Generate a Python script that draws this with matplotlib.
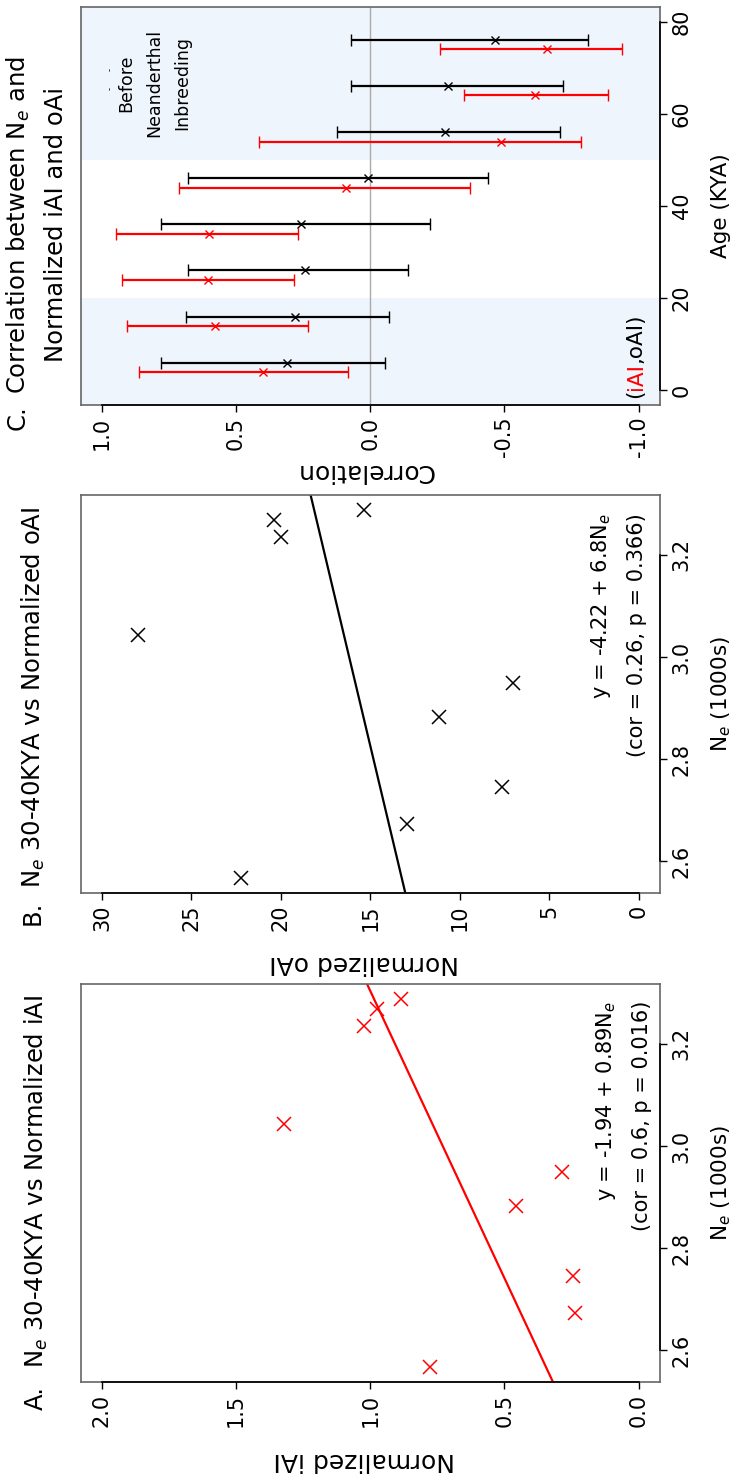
import numpy as np
import matplotlib.pyplot as plt

plt.rcParams['font.family'] = ['DejaVu Sans']
plt.rcParams['mathtext.fontset'] = 'dejavusans'

# Ne (1000s) at 30-40 KYA against normalized admixture
ne_vals = [2.567, 2.674, 2.745, 2.883, 2.949, 3.043, 3.234, 3.268, 3.288]
iai_vals = [0.778, 0.238, 0.244, 0.456, 0.287, 1.323, 1.022, 0.975, 0.884]
oai_vals = [22.21, 12.94, 7.66, 11.18, 7.00, 28.01, 19.99, 20.38, 15.37]
iai_fit = (-1.94, 0.89)
oai_fit = (-4.22, 6.8)
iai_stats = '(cor = 0.6, p = 0.016)'
oai_stats = '(cor = 0.26, p = 0.366)'

# correlation per age bin (KYA) with confidence interval
age_bins = [5, 15, 25, 35, 45, 55, 65, 75]
iai_cor = [0.399, 0.577, 0.606, 0.601, 0.092, -0.488, -0.613, -0.657]
iai_cor_hi = [0.861, 0.908, 0.925, 0.948, 0.711, 0.413, -0.348, -0.261]
iai_cor_lo = [0.084, 0.232, 0.286, 0.270, -0.373, -0.786, -0.887, -0.939]
oai_cor = [0.312, 0.279, 0.244, 0.258, 0.010, -0.277, -0.291, -0.465]
oai_cor_hi = [0.780, 0.685, 0.681, 0.779, 0.681, 0.124, 0.073, 0.071]
oai_cor_lo = [-0.054, -0.071, -0.141, -0.221, -0.439, -0.707, -0.718, -0.810]

W, H = 734, 1480
fig = plt.figure(figsize=(W / 100, H / 100), dpi=100)


def box(top, bottom):
    # pixel rows of the panel -> figure fraction
    return [80.5 / W, 1 - bottom / H, (660 - 80.5) / W, (bottom - top) / H]


axA = fig.add_axes(box(984, 1382))
axB = fig.add_axes(box(495, 893))
axC = fig.add_axes(box(7, 405))


def frame(ax, xt, xtl, yt, ytl, xlab, ylab, xlab_y, xlab_size, ylab_size):
    ax.yaxis.tick_right()
    ax.yaxis.set_label_position('right')
    ax.set_xticks(xt, xtl, rotation=90)
    ax.set_yticks(yt, ytl, rotation=90, va='center')
    ax.tick_params(direction='out', length=5, width=1, labelsize=15, pad=3.5)
    for s in ax.spines.values():
        s.set_color('#666666')
        s.set_linewidth(1.2)
    # R style axis lines, first to last tick
    ax.plot([xt[0], xt[-1]], [0, 0], transform=ax.get_xaxis_transform(),
            color='black', lw=1.2, clip_on=False, zorder=5)
    ax.plot([1, 1], [yt[0], yt[-1]], transform=ax.get_yaxis_transform(),
            color='black', lw=1.2, clip_on=False, zorder=5)
    ax.set_xlabel(xlab, rotation=180, fontsize=xlab_size, va='center')
    ax.xaxis.set_label_coords(0.49, xlab_y)
    ax.set_ylabel(ylab, rotation=90, fontsize=ylab_size, va='center')
    ax.yaxis.set_label_coords(1.105, 0.5)


lo, hi = min(ne_vals), max(ne_vals)
pad = 0.04 * (hi - lo)
ne_lim = (lo - pad, hi + pad)

ne_ticks = [2.6, 2.8, 3.0, 3.2]
ne_labels = ['2.6', '2.8', '3.0', '3.2']

# A. iAI
a, b = iai_fit
axA.plot(iai_vals, ne_vals, 'x', color='red', ms=9.5, mew=1.1)
axA.axline((a + b * 3.0, 3.0), slope=1 / b, color='red', lw=1.6)
axA.set_xlim(2.08, -0.08)
axA.set_ylim(ne_lim)
frame(axA, [0, 0.5, 1.0, 1.5, 2.0], ['0.0', '0.5', '1.0', '1.5', '2.0'],
      ne_ticks, ne_labels, 'Normalized iAI', 'N$_e$ (1000s)', -0.196, 18, 15.5)
axA.text(0.936, 0.958, f'y = {a} + {b}N$_e$\n{iai_stats}', transform=axA.transAxes,
         rotation=90, ha='center', va='top', ma='right', fontsize=15, linespacing=1.85)

# B. oAI
a, b = oai_fit
axB.plot(oai_vals, ne_vals, 'x', color='black', ms=9.5, mew=1.1)
axB.axline((a + b * 3.0, 3.0), slope=1 / b, color='black', lw=1.6)
axB.set_xlim(31.2, -1.2)
axB.set_ylim(ne_lim)
frame(axB, [0, 5, 10, 15, 20, 25, 30], ['0', '5', '10', '15', '20', '25', '30'],
      ne_ticks, ne_labels, 'Normalized oAI', 'N$_e$ (1000s)', -0.176, 18, 15.5)
axB.text(0.9275, 0.953, f'y = {a} + {b}N$_e$\n{oai_stats}', transform=axB.transAxes,
         rotation=90, ha='center', va='top', ma='right', fontsize=15, linespacing=1.85)

# C. correlation through time
ages = np.array(age_bins)
axC.axhspan(-10, 20, color='#EEF5FD', lw=0, zorder=0)
axC.axhspan(50, 90, color='#EEF5FD', lw=0, zorder=0)
axC.axvline(0, color='#AAAAAA', lw=1, zorder=1)
axC.errorbar(oai_cor, ages + 1,
             xerr=[np.subtract(oai_cor, oai_cor_lo), np.subtract(oai_cor_hi, oai_cor)],
             fmt='x', color='black', ms=6, mew=1, elinewidth=1.6, capsize=4, capthick=1.6)
axC.errorbar(iai_cor, ages - 1,
             xerr=[np.subtract(iai_cor, iai_cor_lo), np.subtract(iai_cor_hi, iai_cor)],
             fmt='x', color='red', ms=6, mew=1, elinewidth=1.6, capsize=4, capthick=1.6)
axC.set_xlim(1.08, -1.08)
axC.set_ylim(-3.2, 83.2)
frame(axC, [-1.0, -0.5, 0.0, 0.5, 1.0], ['-1.0', '-0.5', '0.0', '0.5', '1.0'],
      [0, 20, 40, 60, 80], ['0', '20', '40', '60', '80'],
      'Correlation', 'Age (KYA)', -0.166, 18, 15.5)

axC.text(0.804, 66.75, 'Before\nNeanderthal\nInbreeding', rotation=90, ha='center',
         va='center', ma='center', fontsize=12.5, linespacing=1.7)
for yy in [65.6, 69.7]:
    axC.text(0.971, yy, '-', rotation=90, ha='center', va='center', fontsize=6)

t1 = axC.text(-0.989, -1.7, '(', rotation=90, ha='center', va='bottom', fontsize=15.5)
t2 = axC.annotate('iAI', xy=(0.5, 1), xycoords=t1, rotation=90, ha='center',
                  va='bottom', color='red', fontsize=15.5)
axC.annotate(',oAI)', xy=(0.5, 1), xycoords=t2, rotation=90, ha='center',
             va='bottom', fontsize=15.5)

# panel titles
fs = 17.5
fig.text(36 / W, 1 - 1410 / H, 'A.', rotation=90, ha='center', va='bottom', fontsize=fs)
fig.text(36.5 / W, 1 - 1368 / H, 'N$_e$ 30-40KYA vs Normalized iAI', rotation=90,
         ha='center', va='bottom', fontsize=fs)
fig.text(32.5 / W, 1 - 925 / H, 'B.', rotation=90, ha='center', va='bottom', fontsize=fs)
fig.text(33 / W, 1 - 888 / H, 'N$_e$ 30-40KYA vs Normalized oAI', rotation=90,
         ha='center', va='bottom', fontsize=fs)
fig.text(17.5 / W, 1 - 430 / H, 'C.', rotation=90, ha='center', va='bottom', fontsize=fs)
fig.text(36.5 / W, 1 - 225 / H, 'Correlation between N$_e$ and\nNormalized iAI and oAi',
         rotation=90, ha='center', va='center', ma='center', fontsize=fs, linespacing=1.6)

fig.savefig('out.png', dpi=100)
